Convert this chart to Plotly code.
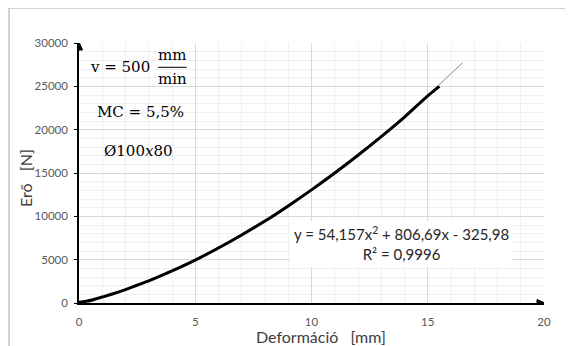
import plotly.graph_objects as go
import numpy as np

deform_mm = [0, 0.3, 0.6, 1, 1.5, 2, 2.5, 3, 4, 5, 6, 7, 8, 9, 10, 11, 12, 13, 14, 15, 15.5]
force_N = [80, 200, 380, 700, 1100, 1550, 2050, 2550, 3700, 4950, 6350, 7850, 9450,
           11200, 13050, 15000, 17050, 19200, 21450, 23900, 25000]

# trendline coefficients shown on the chart
trend_coef = [54.157, 806.69, -325.98]
trend_x_end = 16.5

x_ticks = [0, 5, 10, 15, 20]
y_ticks = [0, 5000, 10000, 15000, 20000, 25000, 30000]

tx = np.linspace(0, trend_x_end, 60)
ty = np.polyval(trend_coef, tx)

fig = go.Figure()
fig.add_trace(go.Scatter(x=tx, y=ty, mode="lines",
                         line=dict(color="#8c8c8c", width=1), hoverinfo="skip"))
fig.add_trace(go.Scatter(x=deform_mm, y=force_N, mode="lines",
                         line=dict(color="black", width=3, shape="spline")))

tick_font = dict(family="Lato, Carlito, sans-serif", size=11.5, color="#595959")
title_font = dict(family="Lato, Carlito, sans-serif", size=16, color="#404040")

fig.update_layout(
    width=573, height=346,
    margin=dict(l=71, r=37, t=35, b=51),
    paper_bgcolor="white", plot_bgcolor="white",
    showlegend=False,
    xaxis=dict(range=[0, 20], tickvals=x_ticks, ticktext=[str(v) for v in x_ticks],
               showgrid=True, gridcolor="#d9d9d9", gridwidth=1,
               minor=dict(dtick=1, showgrid=True, gridcolor="#f0f0f0", gridwidth=1),
               zeroline=False, showline=True, linecolor="black", linewidth=1.5,
               tickfont=tick_font, automargin=False,
               ticks="", ticklen=0, ticklabelstandoff=7),
    yaxis=dict(range=[0, 30000], tickvals=y_ticks, ticktext=[str(v) for v in y_ticks],
               showgrid=True, gridcolor="#d9d9d9", gridwidth=1,
               minor=dict(dtick=1000, showgrid=True, gridcolor="#f0f0f0", gridwidth=1),
               zeroline=False, showline=True, linecolor="black", linewidth=1.5,
               tickfont=tick_font, automargin=False,
               ticks="outside", ticklen=3, tickcolor="black", ticklabelstandoff=4),
)

# axis titles
fig.add_annotation(x=(321 - 79) / 465, y=(303 - 336) / 260, xref="paper", yref="paper",
                   text="Deformáció   [mm]", showarrow=False, font=title_font,
                   xanchor="center", yanchor="middle")
fig.add_annotation(x=(26 - 79) / 465, y=(303 - 178) / 260, xref="paper", yref="paper",
                   text="Erő   [N]", showarrow=False, font=title_font, textangle=-90,
                   xanchor="center", yanchor="middle")

# axis arrowheads
fig.add_shape(type="path", xref="x", yref="y", xsizemode="pixel", ysizemode="pixel",
              xanchor=20, yanchor=0, path="M 1,0 L -7,3.5 L -7,-3.5 Z",
              fillcolor="black", line=dict(color="black", width=1))
fig.add_shape(type="path", xref="x", yref="y", xsizemode="pixel", ysizemode="pixel",
              xanchor=0, yanchor=30000, path="M 0,1 L -3.5,-7 L 3.5,-7 Z",
              fillcolor="black", line=dict(color="black", width=1))

serif = dict(family="DejaVu Serif, serif", size=15, color="black")
fig.add_annotation(x=1.76, y=27230, text="v = 500", showarrow=False, font=serif)
fig.add_annotation(x=4.0, y=28615, text="mm", showarrow=False, font=serif)
fig.add_annotation(x=4.0, y=25846, text="min", showarrow=False, font=serif)
fig.add_shape(type="line", x0=3.4, x1=4.64, y0=27196, y1=27196,
              line=dict(color="black", width=1))
fig.add_annotation(x=2.645, y=22073, text="MC = 5,5%", showarrow=False, font=serif)
fig.add_annotation(x=2.54, y=17573, text="Ø100<i>x</i>80", showarrow=False, font=serif)

fig.add_annotation(x=13.87, y=6842,
                   text="y = 54,157x<sup>2</sup> + 806,69x - 325,98<br>R² = 0,9996",
                   showarrow=False, bgcolor="white", borderpad=3,
                   font=dict(family="Lato, Carlito, sans-serif", size=15, color="#262626"))

# outer chart border
fig.add_shape(type="rect", xref="paper", yref="paper",
              x0=(9 - 79) / 465, x1=(575 - 79) / 465,
              y0=(303 - 360) / 260, y1=(303 - 8) / 260,
              line=dict(color="#a6a6a6", width=1), fillcolor="rgba(0,0,0,0)")

fig.write_html("out.html")
